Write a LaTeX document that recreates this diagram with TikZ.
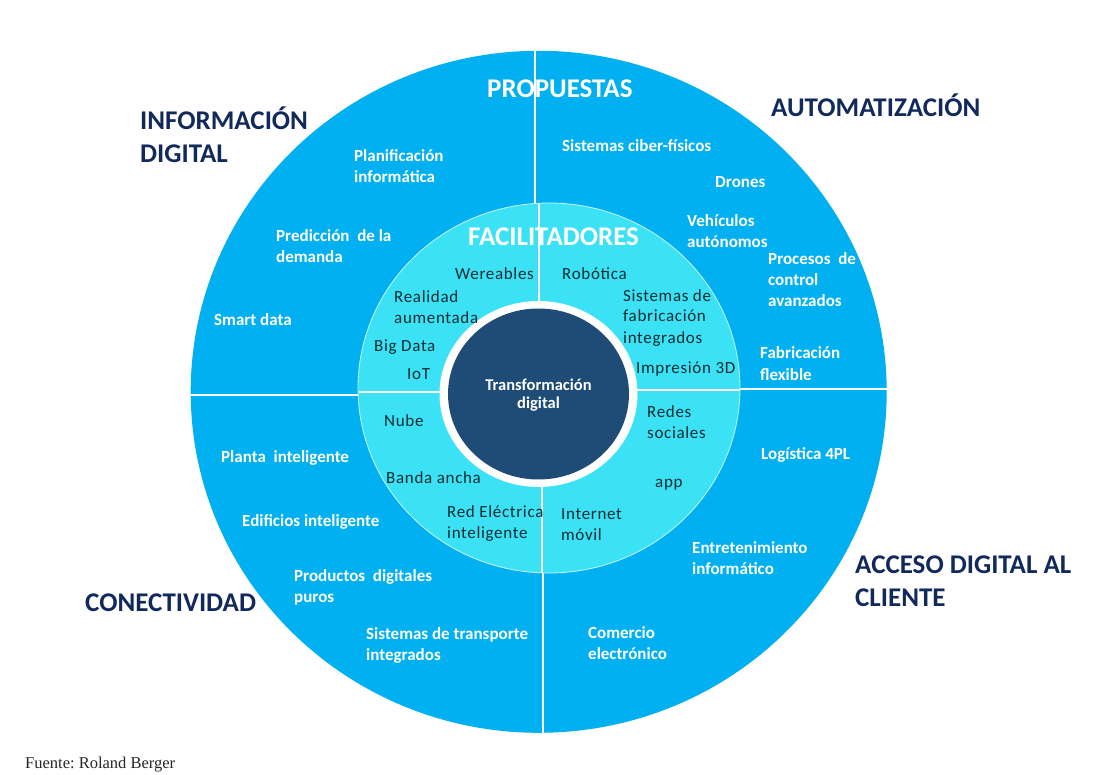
\documentclass[tikz,border=0pt]{standalone}
\usepackage{fontspec}
\setmainfont{Carlito}
\newfontfamily\spacedfont[LetterSpace=4]{Carlito}
\newfontfamily\sourcefont{Liberation Serif}
\usetikzlibrary{positioning}

\definecolor{ringblue}{HTML}{00B0F0}
\definecolor{facilcyan}{HTML}{3BE2F6}
\definecolor{coreblue}{HTML}{1F4B77}
\definecolor{headnavy}{HTML}{12295C}
\definecolor{facilink}{HTML}{0E2C30}

% multi-line labels sit on the baseline of their last line
\tikzset{
    sep line/.style={draw=white, line width=1.4pt},
    head/.style={anchor=base west, inner sep=0pt, align=left, text=headnavy,
      font=\bfseries\fontsize{27}{33}\selectfont},
    head white/.style={head, text=white},
    prop/.style={anchor=base west, inner sep=0pt, align=left, text=white,
      font=\bfseries\fontsize{17}{21}\selectfont},
    facil/.style={anchor=base west, inner sep=0pt, align=left, text=facilink,
      font=\spacedfont\fontsize{17}{21}\selectfont}
  }

\begin{document}
\begin{tikzpicture}[x=1pt,y=-1pt]
    \useasboundingbox (0,0) rectangle (1113,775);

    % outer ring with the four quadrant cuts
    \fill[ringblue] (538.7,391.8) ellipse [x radius=348pt, y radius=341pt];
    \draw[sep line] (535,45) -- (535,260);
    \draw[sep line] (185,395) -- (400,395);
    \draw[sep line] (892,389) -- (700,389);
    \draw[sep line] (543,738) -- (543,520);

    % facilitators ring
    \filldraw[fill=facilcyan, draw=white!70!facilcyan, line width=0.8pt]
      (549,388) ellipse [x radius=191pt, y radius=185pt];
    \draw[sep line] (539,204) -- (539,330);
    \draw[sep line] (358.5,392) -- (470,392);
    \draw[sep line] (739.5,390) -- (610,390);
    \draw[sep line] (542,572.5) -- (542,460);

    % core
    \fill[white] (538.5,394) ellipse [x radius=99pt, y radius=93pt];
    \fill[coreblue] (538.5,394) ellipse [x radius=90.5pt, y radius=85.5pt];
    \node[anchor=base, inner sep=0pt, align=center, text=white,
      font=\bfseries\fontsize{16.5}{18}\selectfont] (core) at (538.5,408) {Transformación\\digital};

    % headings
    \node[head] (infodig) at (140,163) {INFORMACIÓN\\DIGITAL};
    \node[head white] (propuestas) at (487,98) {PROPUESTAS};
    \node[head] (automat) at (771,117) {AUTOMATIZACIÓN};
    \node[head white] (facilit) at (468,246) {FACILITADORES};
    \node[head] (acceso) at (855,606) {ACCESO DIGITAL AL\\CLIENTE};
    \node[head] (conect) at (85,611) {CONECTIVIDAD};

    % proposals, top left
    \node[prop] (planif) at (354,183) {Planificación\\informática};
    \node[prop] (predic) at (276,263) {Predicción\ \ de la\\demanda};
    \node[prop] (smart) at (214,326) {Smart data};
    % top right
    \node[prop] (ciber) at (562,152) {Sistemas ciber-físicos};
    \node[prop] (drones) at (715,188) {Drones};
    \node[prop] (vehic) at (687,248) {Vehículos\\autónomos};
    \node[prop] (proces) at (768,307) {Procesos\ \ de\\control\\avanzados};
    \node[prop] (fabric) at (760,380) {Fabricación\\flexible};
    % bottom right
    \node[prop] (logist) at (761,459) {Logística 4PL};
    \node[prop] (entret) at (692,574) {Entretenimiento\\informático};
    \node[prop] (comerc) at (588,659) {Comercio\\electrónico};
    % bottom left
    \node[prop] (planta) at (221,462) {Planta\ \ inteligente};
    \node[prop] (edific) at (242,526) {Edificios inteligente};
    \node[prop] (produc) at (294,602) {Productos\ \ digitales\\puros};
    \node[prop] (transp) at (366,660) {Sistemas de transporte\\integrados};

    % facilitators
    \node[facil] (wear) at (455,280) {Wereables};
    \node[facil] (robot) at (562,280) {Robótica};
    \node[facil] (realid) at (394,324) {Realidad\\aumentada};
    \node[facil] (sisfab) at (623,343) {Sistemas de\\fabricación\\integrados};
    \node[facil] (bigdata) at (374,352) {Big Data};
    \node[facil] (iot) at (407,379) {IoT};
    \node[facil] (impr) at (636,373) {Impresión 3D};
    \node[facil] (nube) at (384,426) {Nube};
    \node[facil] (redes) at (647,438) {Redes\\sociales};
    \node[facil] (banda) at (386,483) {Banda ancha};
    \node[facil] (app) at (655,487) {app};
    \node[facil] (redel) at (447,538) {Red Eléctrica\\inteligente};
    \node[facil] (intmov) at (561,540) {Internet\\móvil};

%    \node[anchor=base west] at (25,768) {Fuente};
    \node[anchor=base west, inner sep=0pt, font=\sourcefont\frenchspacing\fontsize{16.5}{20}\selectfont,
      text=black!85] (fuente) at (25,768) {Fuente: Roland Berger};
\end{tikzpicture}
\end{document}
